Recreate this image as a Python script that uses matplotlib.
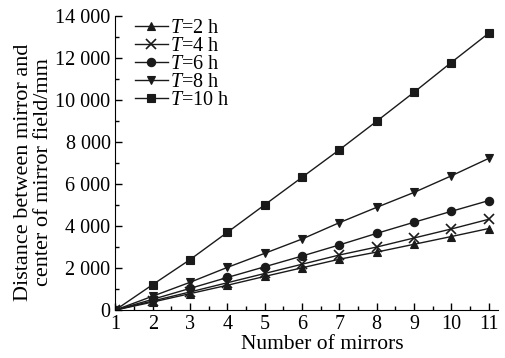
import matplotlib
matplotlib.use('Agg')
import matplotlib.pyplot as plt
from matplotlib.ticker import MultipleLocator, FuncFormatter

plt.rcParams['font.family'] = 'Liberation Serif'
plt.rcParams['mathtext.fontset'] = 'custom'
plt.rcParams['mathtext.rm'] = 'Liberation Serif'
plt.rcParams['mathtext.it'] = 'Liberation Serif:italic'

# data
mirrors = [1, 2, 3, 4, 5, 6, 7, 8, 9, 10, 11]
t2 = [0, 380, 780, 1180, 1600, 2010, 2420, 2760, 3130, 3500, 3880]
t4 = [0, 430, 860, 1300, 1740, 2180, 2620, 3000, 3430, 3860, 4320]
t6 = [0, 510, 1030, 1550, 2060, 2570, 3100, 3650, 4180, 4700, 5210]
t8 = [0, 660, 1320, 2030, 2700, 3380, 4160, 4890, 5600, 6390, 7220]
t10 = [0, 1210, 2400, 3700, 5010, 6320, 7630, 8990, 10370, 11790, 13180]

series = [(t2, '^', r'$T$=2 h'), (t4, 'x', r'$T$=4 h'), (t6, 'o', r'$T$=6 h'),
          (t8, 'v', r'$T$=8 h'), (t10, 's', r'$T$=10 h')]

fig = plt.figure(figsize=(5.06, 3.58), dpi=100)
ax = fig.add_axes([0.228, 0.134, 0.756, 0.821])

for vals, mk, lab in series:
    ax.plot(mirrors, vals, color='#1a1a1a', lw=1.0, marker=mk, ms=6 if mk != 'x' else 6.5,
            mew=1.2 if mk == 'x' else 0.8, label=lab)

ax.set_xlim(1, 11.25)
ax.set_ylim(0, 14000)
ax.xaxis.set_major_locator(MultipleLocator(1))
ax.xaxis.set_minor_locator(MultipleLocator(0.5))
ax.yaxis.set_major_locator(MultipleLocator(2000))
ax.yaxis.set_minor_locator(MultipleLocator(1000))
ax.yaxis.set_major_formatter(FuncFormatter(
    lambda v, p: '0' if v == 0 else '{:,}'.format(int(v)).replace(',', ' ')))

ax.spines['top'].set_visible(False)
ax.spines['right'].set_visible(False)
ax.tick_params(which='both', direction='in', labelsize=14.5, width=1)
ax.tick_params(which='major', length=5)
ax.tick_params(which='minor', length=3)

ax.set_xlabel('Number of mirrors', fontsize=15.5)
ax.xaxis.set_label_coords(0.54, -0.085)
ax.set_ylabel('Distance between mirror and\ncenter of mirror field/mm', fontsize=16,
              linespacing=1.1)
ax.yaxis.set_label_coords(-0.163, 0.47)

ax.legend(loc='upper left', bbox_to_anchor=(0.04, 1.005), frameon=False, fontsize=14.5,
          handlelength=1.65, handletextpad=0.1, labelspacing=-0.05, borderpad=0.1,
          borderaxespad=0.1)

fig.savefig('out.png', dpi=100)
